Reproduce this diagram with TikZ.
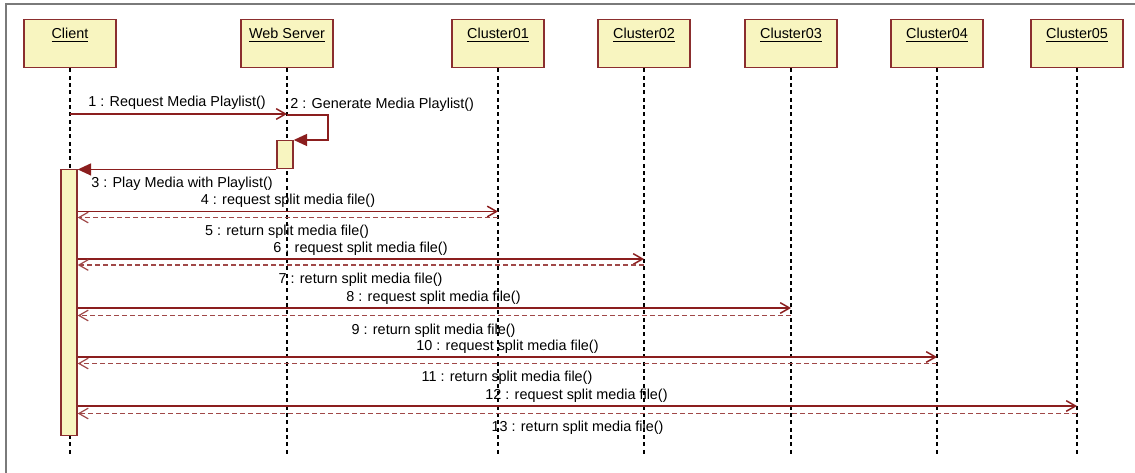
\documentclass[tikz,border=0pt]{standalone}
\usepackage{fontspec}
\setmainfont{Liberation Sans}
\usetikzlibrary{arrows.meta}
\definecolor{boxfill}{HTML}{F8F5C0}
\definecolor{boxline}{HTML}{8B2E2E}
\definecolor{msgcol}{HTML}{8B1E1E}
\definecolor{retcol}{HTML}{A04848}
\definecolor{framecol}{HTML}{7A7A7A}
\begin{document}
\begin{tikzpicture}[x=0.75pt,y=-0.75pt,
  font=\fontsize{10.8}{12}\selectfont,
  obj/.style={draw=boxline, fill=boxfill, line width=1.1pt, minimum width=69pt, minimum height=36pt, inner sep=0pt, anchor=north},
  title/.style={anchor=base, inner sep=0pt},
  act/.style={draw=boxline, fill=boxfill, line width=1.1pt, minimum width=12pt, inner sep=0pt, anchor=north},
  life/.style={draw=black, line width=1pt, dash pattern=on 3pt off 2.5pt},
  msgline/.style={draw=msgcol, line width=1.1pt},
  retline/.style={draw=retcol, line width=0.9pt, dash pattern=on 3.5pt off 2.5pt},
  opentip/.style={-{Straight Barb[length=7pt,width=8pt]}},
  filltip/.style={-{Triangle[length=10pt,width=9pt]}},
  lbl/.style={anchor=base, inner sep=0pt},
  lblw/.style={anchor=base west, inner sep=0pt},
  frameline/.style={draw=framecol, line width=1.5pt}
]
\useasboundingbox (0,0) rectangle (1135,473);
\draw[frameline] (6,473) -- (6,4) -- (1135,4);

% objects
\node[obj] (client) at (70,19) {};
\node[obj] (web) at (287,19) {};
\node[obj] (c1) at (498,19) {};
\node[obj] (c2) at (644,19) {};
\node[obj] (c3) at (791,19) {};
\node[obj] (c4) at (937,19) {};
\node[obj] (c5) at (1077,19) {};
\node[title] (tclient) at (70,39) {\underline{Client}};
\node[title] (tweb) at (287,39) {\underline{Web Server}};
\node[title] (tc1) at (498,39) {\underline{Cluster01}};
\node[title] (tc2) at (644,39) {\underline{Cluster02}};
\node[title] (tc3) at (791,39) {\underline{Cluster03}};
\node[title] (tc4) at (937,39) {\underline{Cluster04}};
\node[title] (tc5) at (1077,39) {\underline{Cluster05}};

% lifelines
\coordinate (eclient) at (70,455);
\coordinate (eweb) at (287,455);
\coordinate (ec1) at (498,455);
\coordinate (ec2) at (644,455);
\coordinate (ec3) at (791,455);
\coordinate (ec4) at (937,455);
\coordinate (ec5) at (1077,455);
\draw[life] (client.south) -- (eclient);
\draw[life] (web.south) -- (eweb);
\draw[life] (c1.south) -- (ec1);
\draw[life] (c2.south) -- (ec2);
\draw[life] (c3.south) -- (ec3);
\draw[life] (c4.south) -- (ec4);
\draw[life] (c5.south) -- (ec5);

% activations
\node[act, minimum height=199.5pt] (cact) at (69,169) {};
\node[act, minimum height=21pt] (wact) at (285,140) {};

% message 1
\coordinate (m1s) at (70,114);
\coordinate (m1e) at (287,114);
\draw[msgline, opentip] (m1s) -- (m1e);
\node[lbl] (l1) at (177,107) {1 : Request Media Playlist()};

% message 2 (self)
\coordinate (m2s) at (287,115);
\coordinate (m2r) at (328,115);
\draw[msgline, filltip] (m2s) -- (m2r) |- (wact.north east);
\node[lblw] (l2) at (290,109) {2 : Generate Media Playlist()};

% message 3
\draw[msgline, filltip] (wact.south west) -- (wact.south west -| cact.east);
\node[lblw] (l3) at (91,188) {3 : Play Media with Playlist()};

% messages 4..13
\coordinate (a4) at (498,211.5);
\coordinate (r5) at (498,217.5);
\draw[msgline, opentip] (a4 -| cact.east) -- (a4);
\draw[retline, opentip] (r5) -- (r5 -| cact.east);
\node[lbl] (l4) at (288,204.5) {4 : request split media file()};
\node[lbl] (l5) at (287,236) {5 : return split media file()};

\coordinate (a6) at (644,259);
\coordinate (r7) at (644,265);
\draw[msgline, opentip] (a6 -| cact.east) -- (a6);
\draw[retline, opentip] (r7) -- (r7 -| cact.east);
\node[lbl] (l6) at (360.5,252.5) {6 : request split media file()};
\node[lbl] (l7) at (360.5,283.5) {7 : return split media file()};

\coordinate (a8) at (791,308);
\coordinate (r9) at (791,315.5);
\draw[msgline, opentip] (a8 -| cact.east) -- (a8);
\draw[retline, opentip] (r9) -- (r9 -| cact.east);
\node[lbl] (l8) at (433.5,301.5) {8 : request split media file()};
\node[lbl] (l9) at (433.5,334.5) {9 : return split media file()};

\coordinate (a10) at (937,357);
\coordinate (r11) at (937,363.5);
\draw[msgline, opentip] (a10 -| cact.east) -- (a10);
\draw[retline, opentip] (r11) -- (r11 -| cact.east);
\node[lbl] (l10) at (507.5,350.5) {10 : request split media file()};
\node[lbl] (l11) at (507,381.5) {11 : return split media file()};

\coordinate (a12) at (1077,406);
\coordinate (r13) at (1077,413.5);
\draw[msgline, opentip] (a12 -| cact.east) -- (a12);
\draw[retline, opentip] (r13) -- (r13 -| cact.east);
\node[lbl] (l12) at (576.5,399.5) {12 : request split media file()};
\node[lbl] (l13) at (577.5,431.5) {13 : return split media file()};
\end{tikzpicture}
\end{document}
